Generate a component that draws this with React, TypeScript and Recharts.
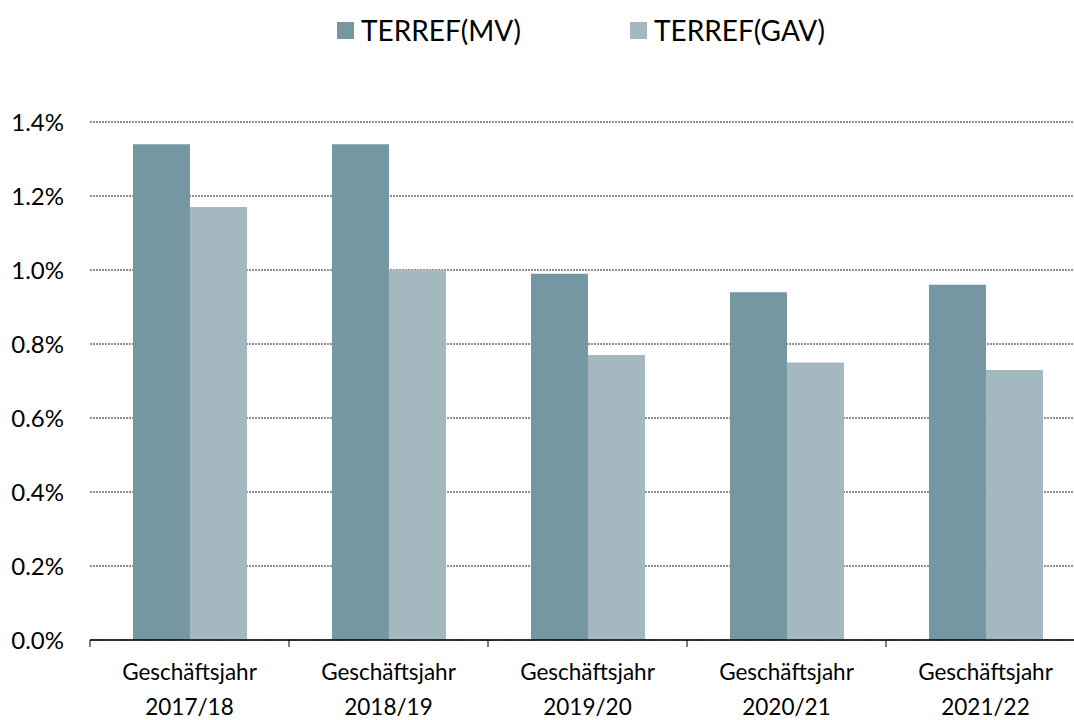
import { Bar, BarChart, CartesianGrid, Legend, XAxis, YAxis } from "recharts";

const CATEGORIES = ["2017/18", "2018/19", "2019/20", "2020/21", "2021/22"];
const MV_VALUES = [1.34, 1.34, 0.99, 0.94, 0.96];
const GAV_VALUES = [1.17, 1.0, 0.77, 0.75, 0.73];
const Y_TICKS = [0, 0.2, 0.4, 0.6, 0.8, 1.0, 1.2, 1.4];

const COLORS = { mv: "#7597A2", gav: "#A3B8BF" };
const FONT = "Lato, 'Open Sans', sans-serif";

const CHART_W = 1085;
const Y_AXIS_W = 90;
const BAND = (CHART_W - Y_AXIS_W) / CATEGORIES.length;

const data = CATEGORIES.map((year, i) => ({
  name: year,
  mv: MV_VALUES[i],
  gav: GAV_VALUES[i],
}));

function YearTick(props: any) {
  const { x, y, payload, index } = props;
  const left = x - BAND / 2;
  return (
    <g>
      <line x1={left} x2={left} y1={y} y2={y + 7} stroke="#000" />
      {index === CATEGORIES.length - 1 && (
        <line x1={left + BAND} x2={left + BAND} y1={y} y2={y + 7} stroke="#000" />
      )}
      <text x={x} y={y + 40} textAnchor="middle" fontSize={22.5} fill="#000" fontFamily={FONT}>
        Geschäftsjahr
      </text>
      <text x={x} y={y + 75} textAnchor="middle" fontSize={22.5} fill="#000" fontFamily={FONT}>
        {payload.value}
      </text>
    </g>
  );
}

// zero-height wrapper so the legend does not push the plot down
function TopLegend() {
  const items = [
    { label: "TERREF(MV)", color: COLORS.mv },
    { label: "TERREF(GAV)", color: COLORS.gav },
  ];
  return (
    <div style={{ height: 0, overflow: "visible" }}>
      <div style={{ display: "flex", justifyContent: "center", gap: 109, paddingLeft: 88, fontFamily: FONT, fontSize: 28, color: "#000", lineHeight: "34px" }}>
        {items.map((it) => (
          <div key={it.label} style={{ display: "flex", alignItems: "center" }}>
            <span style={{ width: 17, height: 17, background: it.color, display: "inline-block", marginRight: 7 }} />
            <span>{it.label}</span>
          </div>
        ))}
      </div>
    </div>
  );
}

export default function App() {
  return (
    <div style={{ position: "absolute", left: 0, top: 0, width: 1074, height: 720, overflow: "hidden", background: "#fff" }}>
      <BarChart
        width={CHART_W}
        height={720}
        data={data}
        margin={{ top: 122, right: 0, bottom: 0, left: 0 }}
        barCategoryGap="21.6%"
        barGap={0}
      >
        <CartesianGrid vertical={false} stroke="#222" strokeDasharray="2 1" />
        <Legend
          verticalAlign="top"
          content={() => <TopLegend />}
          wrapperStyle={{ top: 13, left: 0, width: 1074, height: 0 }}
        />
        <XAxis
          dataKey="name"
          height={80}
          axisLine={{ stroke: "#000", strokeWidth: 1.5 }}
          tickLine={false}
          tickSize={0}
          tickMargin={0}
          tick={<YearTick />}
          interval={0}
        />
        <YAxis
          width={Y_AXIS_W}
          domain={[0, 1.4]}
          ticks={Y_TICKS}
          axisLine={false}
          tickLine={false}
          tickSize={0}
          tickMargin={26}
          tickFormatter={(v: number) => v.toFixed(1) + "%"}
          tick={{ fontSize: 24, fill: "#000", fontFamily: FONT }}
        />
        <Bar dataKey="mv" name="TERREF(MV)" fill={COLORS.mv} isAnimationActive={false} />
        <Bar dataKey="gav" name="TERREF(GAV)" fill={COLORS.gav} isAnimationActive={false} />
      </BarChart>
    </div>
  );
}
